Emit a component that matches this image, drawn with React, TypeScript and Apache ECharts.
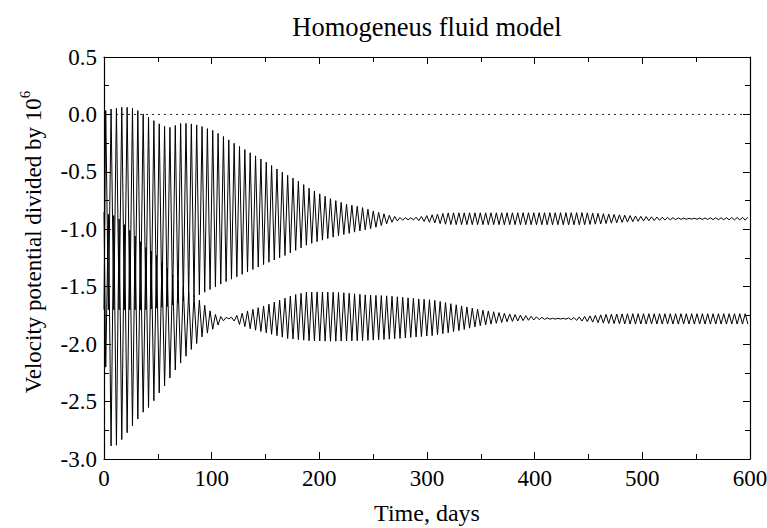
import React, { useEffect, useRef } from "react";
import * as echarts from "echarts";

const PERIOD = 4.97; // days
const FIRST_EXTREMUM = 1.6; // day of first extremum

// Series A (upper curve) envelope: maxima
const aUpperT = [0, 6.5, 11.5, 16.5, 21.5, 26.5, 31.5, 36.5, 41.5, 46.5, 51.5, 56.5, 61.5, 66.5, 71.5, 76.5, 81.5, 86.5, 91.5, 96.5, 101.5, 111.5, 121.5, 131.5, 141.5, 151.5, 161.5, 171.5, 181.5, 190, 200, 212, 225, 238, 250, 260, 268, 275, 285, 295, 305, 320, 445, 460, 480, 500, 525, 545, 565, 600];
const aUpperV = [0.03, 0.047, 0.053, 0.062, 0.062, 0.053, 0.033, 0.004, -0.025, -0.055, -0.083, -0.105, -0.113, -0.095, -0.078, -0.078, -0.083, -0.092, -0.107, -0.125, -0.14, -0.195, -0.255, -0.31, -0.365, -0.42, -0.48, -0.535, -0.585, -0.64, -0.69, -0.74, -0.78, -0.805, -0.84, -0.865, -0.885, -0.897, -0.9, -0.888, -0.873, -0.857, -0.855, -0.862, -0.875, -0.888, -0.898, -0.905, -0.9, -0.896];
// Series A envelope: minima
const aLowerT = [0, 4, 40, 60, 75, 90, 110, 130, 150, 170, 190, 210, 230, 250, 265, 275, 285, 295, 305, 320, 445, 460, 480, 500, 525, 545, 565, 600];
const aLowerV = [-1.7, -1.7, -1.7, -1.67, -1.62, -1.565, -1.47, -1.385, -1.3, -1.22, -1.13, -1.075, -1.03, -0.99, -0.945, -0.922, -0.916, -0.928, -0.943, -0.959, -0.961, -0.954, -0.941, -0.928, -0.918, -0.911, -0.916, -0.92];

// Series B (lower curve) envelope: maxima
const bUpperT = [0, 4, 9, 14, 19, 24, 29, 34, 39, 44, 49, 54, 59, 64, 69, 74, 79, 84, 89, 94, 99, 104, 110, 117, 125, 132, 151, 163, 176, 188, 200, 220, 244, 264, 275, 293, 306, 331, 349, 374, 398, 415, 428, 445, 467, 490, 600];
const bUpperV = [-0.85, -0.87, -0.88, -0.91, -0.96, -1.01, -1.06, -1.11, -1.16, -1.19, -1.23, -1.29, -1.34, -1.4, -1.45, -1.5, -1.55, -1.58, -1.62, -1.665, -1.715, -1.745, -1.765, -1.77, -1.745, -1.715, -1.66, -1.617, -1.572, -1.548, -1.545, -1.55, -1.572, -1.58, -1.59, -1.607, -1.616, -1.665, -1.7, -1.735, -1.758, -1.775, -1.776, -1.76, -1.74, -1.735, -1.735];
// Series B envelope: minima
const bLowerT = [0, 1.6, 6.6, 11.6, 16.6, 21.6, 26.6, 31.6, 36.6, 41.6, 46.6, 51.6, 56.6, 61.6, 66.6, 71.6, 76.6, 81.6, 86.6, 91.6, 96.6, 104, 110, 117, 126, 137, 150, 170, 190, 210, 240, 260, 275, 293, 306, 331, 349, 374, 398, 415, 428, 445, 467, 490, 600];
const bLowerV = [-1.9, -2.2, -2.89, -2.88, -2.83, -2.77, -2.71, -2.65, -2.59, -2.55, -2.49, -2.42, -2.36, -2.29, -2.22, -2.16, -2.1, -2.04, -1.99, -1.93, -1.9, -1.85, -1.8, -1.775, -1.83, -1.87, -1.9, -1.95, -1.97, -1.975, -1.97, -1.96, -1.95, -1.935, -1.925, -1.88, -1.84, -1.805, -1.79, -1.782, -1.781, -1.8, -1.82, -1.825, -1.825];

const xTicks = [0, 100, 200, 300, 400, 500, 600];
const yMin = -3.0;
const yMax = 0.5;

function envAt(ts: number[], vs: number[], t: number): number {
  if (t <= ts[0]) return vs[0];
  for (let i = 1; i < ts.length; i++) {
    if (t <= ts[i]) {
      const f = (t - ts[i - 1]) / (ts[i] - ts[i - 1]);
      return vs[i - 1] + f * (vs[i] - vs[i - 1]);
    }
  }
  return vs[vs.length - 1];
}

function zigzag(upT: number[], upV: number[], loT: number[], loV: number[], firstUpper: boolean) {
  const pts: number[][] = [];
  pts.push([0, firstUpper ? envAt(loT, loV, 0) : envAt(upT, upV, 0)]);
  for (let k = 0; ; k++) {
    const t = FIRST_EXTREMUM + (k * PERIOD) / 2;
    if (t > 600) break;
    const up = (k % 2 === 0) === firstUpper;
    pts.push([t, up ? envAt(upT, upV, t) : envAt(loT, loV, t)]);
  }
  return pts;
}

const FONT = "Liberation Serif, Times New Roman, serif";

export default function App() {
  const ref = useRef<HTMLDivElement>(null);
  useEffect(() => {
    if (!ref.current) return;
    const chart = echarts.init(ref.current, undefined, { renderer: "svg" });
    const dataA = zigzag(aUpperT, aUpperV, aLowerT, aLowerV, true);
    const dataB = zigzag(bUpperT, bUpperV, bLowerT, bLowerV, false);
    const axisCommon = {
      type: "value" as const,
      axisLine: { show: true, onZero: false, lineStyle: { color: "#000", width: 1.2 } },
      splitLine: { show: false },
      minorSplitLine: { show: false },
    };
    chart.setOption({
      animation: false,
      backgroundColor: "#fff",
      textStyle: { fontFamily: FONT },
      grid: { left: 104, right: 17, top: 57, bottom: 69, containLabel: false, outerBoundsMode: "none" },
      xAxis: [
        {
          ...axisCommon,
          position: "bottom",
          min: xTicks[0],
          max: xTicks[xTicks.length - 1],
          interval: 100,
          axisTick: { inside: true, length: 7, lineStyle: { color: "#000" } },
          minorTick: { show: true, splitNumber: 2, length: 5, lineStyle: { color: "#000" } },
          axisLabel: { margin: 8, fontSize: 23, fontFamily: FONT, color: "#000" },
          name: "Time, days",
          nameLocation: "middle",
          nameGap: 42,
          nameTextStyle: { fontSize: 24, fontFamily: FONT, color: "#000" },
        },
        {
          ...axisCommon,
          position: "top",
          min: xTicks[0],
          max: xTicks[xTicks.length - 1],
          interval: 100,
          axisTick: { inside: true, length: 7, lineStyle: { color: "#000" } },
          minorTick: { show: true, splitNumber: 2, length: 5, lineStyle: { color: "#000" } },
          axisLabel: { show: false },
        },
      ],
      yAxis: [
        {
          ...axisCommon,
          position: "left",
          min: yMin,
          max: yMax,
          interval: 0.5,
          axisTick: { inside: true, length: 7, lineStyle: { color: "#000" } },
          minorTick: { show: true, splitNumber: 2, length: 5, lineStyle: { color: "#000" } },
          axisLabel: {
            margin: 7,
            fontSize: 23,
            fontFamily: FONT,
            color: "#000",
            formatter: (v: number) => v.toFixed(1),
          },
        },
        {
          ...axisCommon,
          position: "right",
          min: yMin,
          max: yMax,
          interval: 0.5,
          axisTick: { inside: true, length: 7, lineStyle: { color: "#000" } },
          minorTick: { show: true, splitNumber: 2, length: 5, lineStyle: { color: "#000" } },
          axisLabel: { show: false },
        },
      ],
      graphic: [
        {
          type: "text",
          x: 427,
          y: 27,
          style: {
            text: "Homogeneus fluid model",
            fontSize: 26.5,
            fontFamily: FONT,
            fill: "#000",
            align: "center",
            verticalAlign: "middle",
            textAlign: "center",
            textVerticalAlign: "middle",
          },
        },
        {
          type: "text",
          x: 33,
          y: 242,
          rotation: Math.PI / 2,
          style: {
            text: "{n|Velocity potential divided by 10}{s|6}",
            fill: "#000",
            fontFamily: FONT,
            fontSize: 23,
            align: "center",
            verticalAlign: "middle",
            textAlign: "center",
            textVerticalAlign: "middle",
            rich: {
              n: { fontSize: 23, fontFamily: FONT, fill: "#000", lineHeight: 32 },
              s: { fontSize: 15, fontFamily: FONT, fill: "#000", verticalAlign: "top" },
            },
          },
        },
      ],
      series: [
        {
          type: "line",
          data: [[0, 0], [600, 0]],
          showSymbol: false,
          silent: true,
          lineStyle: { color: "#222", width: 1, type: [2, 4] },
          z: 1,
        },
        {
          type: "line",
          data: dataA,
          showSymbol: false,
          lineStyle: { color: "#000", width: 1 },
          z: 2,
        },
        {
          type: "line",
          data: dataB,
          showSymbol: false,
          lineStyle: { color: "#000", width: 1 },
          z: 2,
        },
      ],
    });
    return () => chart.dispose();
  }, []);
  return <div ref={ref} style={{ width: 767, height: 528, position: "absolute", left: 0, top: 0 }} />;
}
